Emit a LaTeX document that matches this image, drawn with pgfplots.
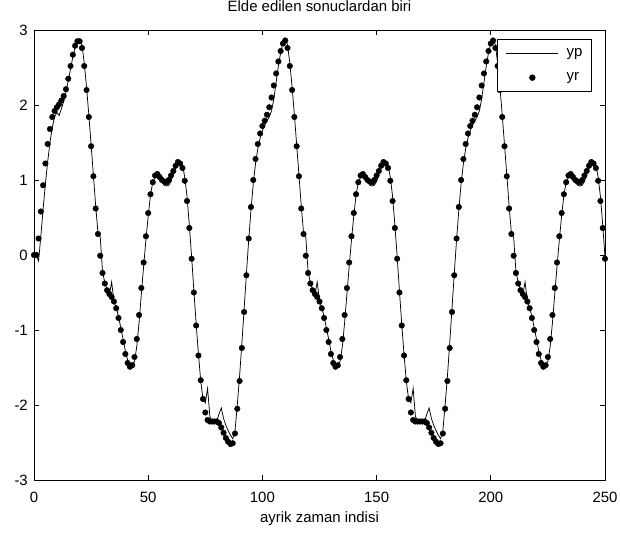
\documentclass[border=0pt]{standalone}
\usepackage{pgfplots}
\usepackage{pgfplotstable}
\usepackage{fontspec}
\setmainfont{Liberation Sans}
\pgfplotsset{compat=1.18}
\pgfplotstableread{
x yp yr
0 0.00 0.00
1 0.00 0.00
2 -0.08 0.22
3 0.25 0.58
4 0.62 0.93
5 0.95 1.22
6 1.25 1.48
7 1.50 1.68
8 1.70 1.84
9 1.84 1.92
10 1.90 1.97
11 1.86 2.01
12 1.95 2.06
13 2.05 2.12
14 2.17 2.21
15 2.32 2.35
16 2.48 2.52
17 2.64 2.67
18 2.77 2.79
19 2.86 2.85
20 2.88 2.85
21 2.80 2.76
22 2.56 2.52
23 2.24 2.20
24 1.87 1.84
25 1.47 1.45
26 1.07 1.05
27 0.66 0.62
28 0.30 0.28
29 0.24 -0.01
30 -0.22 -0.24
31 -0.37 -0.38
32 -0.46 -0.47
33 -0.53 -0.52
34 -0.36 -0.56
35 -0.62 -0.62
36 -0.70 -0.71
37 -0.82 -0.84
38 -0.97 -1.00
39 -1.12 -1.16
40 -1.28 -1.32
41 -1.40 -1.44
42 -1.46 -1.49
43 -1.46 -1.47
44 -1.42 -1.36
45 -1.22 -1.12
46 -0.90 -0.80
47 -0.52 -0.44
48 -0.15 -0.10
49 0.20 0.25
50 0.52 0.56
51 0.80 0.81
52 0.97 0.97
53 1.04 1.06
54 1.05 1.08
55 1.02 1.04
56 0.97 1.00
57 0.93 0.98
58 0.92 0.97
59 0.93 1.00
60 0.98 1.06
61 1.08 1.12
62 1.16 1.19
63 1.22 1.24
64 1.25 1.22
65 1.20 1.16
66 1.04 0.99
67 0.78 0.72
68 0.40 0.36
69 -0.02 -0.05
70 -0.48 -0.50
71 -0.92 -0.94
72 -1.32 -1.34
73 -1.68 -1.67
74 -1.92 -1.92
75 -1.97 -2.10
76 -1.78 -2.20
77 -2.15 -2.22
78 -2.22 -2.22
79 -2.22 -2.22
80 -2.22 -2.22
81 -2.12 -2.24
82 -2.04 -2.30
83 -2.18 -2.37
84 -2.27 -2.44
85 -2.34 -2.49
86 -2.40 -2.52
87 -2.45 -2.51
88 -2.35 -2.38
89 -2.00 -2.05
90 -1.62 -1.68
91 -1.18 -1.24
92 -0.72 -0.76
93 -0.25 -0.27
94 0.20 0.22
95 0.60 0.64
96 0.95 1.00
97 1.22 1.28
98 1.42 1.48
99 1.56 1.62
100 1.66 1.72
101 1.73 1.79
102 1.79 1.87
103 1.84 1.97
104 1.92 2.10
105 2.08 2.26
106 2.30 2.42
107 2.52 2.58
108 2.70 2.72
109 2.83 2.82
110 2.89 2.86
111 2.80 2.76
112 2.56 2.52
113 2.24 2.20
114 1.87 1.84
115 1.47 1.45
116 1.07 1.05
117 0.66 0.62
118 0.30 0.28
119 0.24 -0.01
120 -0.22 -0.24
121 -0.37 -0.38
122 -0.46 -0.47
123 -0.53 -0.52
124 -0.36 -0.56
125 -0.62 -0.62
126 -0.70 -0.71
127 -0.82 -0.84
128 -0.97 -1.00
129 -1.12 -1.16
130 -1.28 -1.32
131 -1.40 -1.44
132 -1.46 -1.49
133 -1.46 -1.47
134 -1.42 -1.36
135 -1.22 -1.12
136 -0.90 -0.80
137 -0.52 -0.44
138 -0.15 -0.10
139 0.20 0.25
140 0.52 0.56
141 0.80 0.81
142 0.97 0.97
143 1.04 1.06
144 1.05 1.08
145 1.02 1.04
146 0.97 1.00
147 0.93 0.98
148 0.92 0.97
149 0.93 1.00
150 0.98 1.06
151 1.08 1.12
152 1.16 1.19
153 1.22 1.24
154 1.25 1.22
155 1.20 1.16
156 1.04 0.99
157 0.78 0.72
158 0.40 0.36
159 -0.02 -0.05
160 -0.48 -0.50
161 -0.92 -0.94
162 -1.32 -1.34
163 -1.68 -1.67
164 -1.92 -1.92
165 -1.97 -2.10
166 -1.78 -2.20
167 -2.15 -2.22
168 -2.22 -2.22
169 -2.22 -2.22
170 -2.22 -2.22
171 -2.22 -2.22
172 -2.12 -2.24
173 -2.04 -2.30
174 -2.18 -2.37
175 -2.27 -2.44
176 -2.34 -2.49
177 -2.40 -2.52
178 -2.45 -2.51
179 -2.35 -2.38
180 -2.00 -2.05
181 -1.62 -1.68
182 -1.18 -1.24
183 -0.72 -0.76
184 -0.25 -0.27
185 0.20 0.22
186 0.60 0.64
187 0.95 1.00
188 1.22 1.28
189 1.42 1.48
190 1.56 1.62
191 1.66 1.72
192 1.73 1.79
193 1.79 1.87
194 1.84 1.97
195 1.92 2.10
196 2.08 2.26
197 2.30 2.42
198 2.52 2.58
199 2.70 2.72
200 2.83 2.82
201 2.89 2.86
202 2.80 2.76
203 2.56 2.52
204 2.24 2.20
205 1.87 1.84
206 1.47 1.45
207 1.07 1.05
208 0.66 0.62
209 0.30 0.28
210 0.24 -0.01
211 -0.22 -0.24
212 -0.37 -0.38
213 -0.46 -0.47
214 -0.53 -0.52
215 -0.36 -0.56
216 -0.62 -0.62
217 -0.70 -0.71
218 -0.82 -0.84
219 -0.97 -1.00
220 -1.12 -1.16
221 -1.28 -1.32
222 -1.40 -1.44
223 -1.46 -1.49
224 -1.46 -1.47
225 -1.42 -1.36
226 -1.22 -1.12
227 -0.90 -0.80
228 -0.52 -0.44
229 -0.15 -0.10
230 0.20 0.25
231 0.52 0.56
232 0.80 0.81
233 0.97 0.97
234 1.04 1.06
235 1.05 1.08
236 1.02 1.04
237 0.97 1.00
238 0.93 0.98
239 0.92 0.97
240 0.93 1.00
241 0.98 1.06
242 1.08 1.12
243 1.16 1.19
244 1.22 1.24
245 1.25 1.22
246 1.20 1.16
247 1.04 0.99
248 0.78 0.72
249 0.40 0.36
250 -0.02 -0.05
}\datatable
\begin{document}
\begin{tikzpicture}
\path[use as bounding box] (-34bp,-53bp) rectangle (586bp,480bp);
\begin{axis}[
  at={(0,0)}, anchor=south west,
  scale only axis, width=571bp, height=450bp,
  xmin=0, xmax=250, ymin=-3, ymax=3,
  clip=false,
  font=\fontsize{15}{18}\selectfont,
  axis line style={line width=0.75bp},
  tick style={line width=0.75bp, black},
  tick align=inside, tick pos=both,
  major tick length=5bp,
  xtick={0,50,100,150,200,250},
  xticklabels={0,50,100,150,200,250},
  ytick={-3,-2,-1,0,1,2,3},
  yticklabels={-3,-2,-1,0,1,2,3},
  xticklabel style={anchor=base, inner sep=0pt, yshift=-22bp},
  yticklabel style={anchor=east, inner sep=0pt, xshift=-6bp},
  title={Elde edilen sonuclardan biri},
  title style={at={(axis description cs:0.5,1)}, anchor=base, yshift=13bp, inner sep=0pt},
  xlabel={ayrik zaman indisi},
  xlabel style={at={(axis description cs:0.5,0)}, anchor=base, yshift=-42bp, inner sep=0pt},
  legend style={at={(0.977,0.98)}, anchor=north east, draw=black, line width=0.75bp,
    fill=white, inner xsep=9bp, inner ysep=9bp, row sep=15bp,
    nodes={inner sep=0pt},
    /tikz/every odd column/.append style={column sep=8bp},
    font=\fontsize{15}{18}\selectfont},
  legend cell align=left,
  legend image code/.code={\draw[mark repeat=2,mark phase=2,#1] plot coordinates {(0bp,0bp) (26bp,0bp) (52bp,0bp)};},
]
\addplot[black, line width=0.75bp, mark=none] table[x=x, y=yp] {\datatable};
\addlegendentry{yp}
\addplot[only marks, mark=*, mark size=2.8bp, black] table[x=x, y=yr] {\datatable};
\addlegendentry{yr}
\end{axis}
\end{tikzpicture}
\end{document}
